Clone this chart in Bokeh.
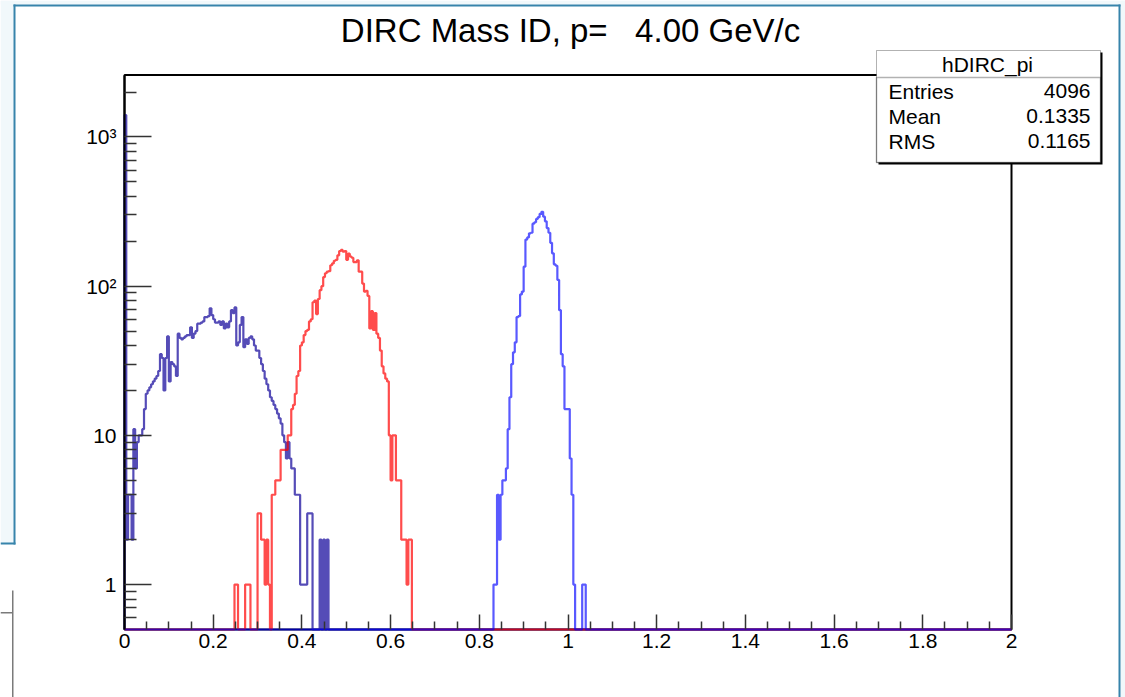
import numpy as np
from bokeh.plotting import figure
from bokeh.models import Range1d, FixedTicker, Label, BoxAnnotation
from bokeh.embed import file_html
from bokeh.resources import INLINE

# ---------------- data ----------------
BIN_WIDTH = 0.004
N_BINS = 500

# hDIRC_pi (dark blue), starts at bin 0
pi_first_bin = 0
pi_counts = [1400, 2, 4, 4, 2, 11, 6, 9, 10, 10, 11, 15, 19, 20, 21, 22, 23, 24, 25, 27,
             35, 33, 20, 33, 46, 23, 31, 30, 29, 25, 48, 45, 44, 45, 46, 47, 47, 53, 45, 48,
             50, 56, 56, 57, 58, 62, 62, 63, 71, 64, 60, 57, 57, 58, 55, 58, 52, 56, 53, 58,
             69, 66, 72, 40, 42, 55, 62, 39, 44, 41, 45, 46, 44, 40, 37, 37, 33, 30, 27, 24,
             22, 20, 18, 17, 16, 15, 14, 13, 12, 10, 9, 7, 9, 7, 6, 6, 4, 4, 4, 1,
             1, 1, 1, 3, 3, 3, 0, 0, 0, 0, 2, 0, 2, 0, 2]

# kaon (red), starts at bin 62
k_first_bin = 62
k_counts = [1, 1, 0, 0, 0, 0, 1, 1, 1, 0, 0, 0, 0, 3, 3, 2, 2, 1, 2, 1,
            0, 4, 4, 5, 5, 5, 8, 8, 8, 8, 10, 10, 15, 16, 19, 25, 27, 40, 42, 47,
            50, 51, 58, 60, 78, 80, 65, 82, 94, 100, 115, 122, 125, 126, 138, 142, 148, 150, 161, 172,
            175, 170, 172, 150, 165, 158, 155, 145, 145, 149, 125, 125, 104, 92, 93, 86, 52, 68, 51, 66,
            48, 45, 37, 29, 26, 24, 23, 10, 5, 10, 10, 5, 5, 5, 2, 2, 2, 1, 2, 2]

# proton (blue), starts at bin 208
p_first_bin = 208
p_counts = [1, 1, 4, 2, 4, 5, 5, 6, 11, 18, 30, 36, 42, 62, 63, 88, 92, 135, 205, 212,
            226, 228, 262, 268, 282, 290, 305, 315, 292, 272, 245, 228, 195, 166, 140, 137, 110, 69, 35, 29,
            15, 15, 15, 7, 4, 1, 0, 0, 0, 0, 1, 1]

x_ticks = [0, 0.2, 0.4, 0.6, 0.8, 1, 1.2, 1.4, 1.6, 1.8, 2]
x_tick_labels = ["0", "0.2", "0.4", "0.6", "0.8", "1", "1.2", "1.4", "1.6", "1.8", "2"]
x_minor = [0.05, 0.1, 0.15, 0.25, 0.3, 0.35, 0.45, 0.5, 0.55, 0.65, 0.7, 0.75, 0.85, 0.9, 0.95,
           1.05, 1.1, 1.15, 1.25, 1.3, 1.35, 1.45, 1.5, 1.55, 1.65, 1.7, 1.75, 1.85, 1.9, 1.95]
y_ticks = [1, 10, 100, 1000]
y_tick_labels = ["1", "10", "10\u00b2", "10\u00b3"]
y_minor = [0.6, 0.7, 0.8, 0.9, 2, 3, 4, 5, 6, 7, 8, 9, 20, 30, 40, 50, 60, 70, 80, 90,
           200, 300, 400, 500, 600, 700, 800, 900, 2000]

title_text = "DIRC Mass ID, p=\u00a0\u00a0\u00a04.00 GeV/c"
stats_name = "hDIRC_pi"
stats_rows = ["Entries", "Mean", "RMS"]
stats_vals = ["4096", "0.1335", "0.1165"]

# ---------------- geometry ----------------
W, H = 1125, 697
X0, X1 = 0.0, 2.0
Y0, Y1 = 0.5, 2600.0
FRAME_L, FRAME_R, FRAME_T, FRAME_B = 124.0, 1011.0, 74.5, 629.0
FONT = "Liberation Sans"

px_x = (FRAME_R - FRAME_L) / (X1 - X0)
x_start = X0 - FRAME_L / px_x
x_end = X1 + (W - FRAME_R) / px_x
decade = (FRAME_B - FRAME_T) / (np.log10(Y1) - np.log10(Y0))
y_start = 10 ** (np.log10(Y0) - (H - FRAME_B) / decade)
y_end = 10 ** (np.log10(Y1) + FRAME_T / decade)

edges = X0 + np.arange(N_BINS + 1) * BIN_WIDTH


def full(first, counts):
    arr = np.zeros(N_BINS)
    arr[first:first + len(counts)] = counts
    return arr


def outline(arr):
    vals = np.where(arr > 0, arr, Y0)
    xs = np.concatenate([[edges[0]], np.repeat(edges, 2)[1:-1], [edges[-1]]])
    ys = np.concatenate([[Y0], np.repeat(vals, 2), [Y0]])
    return xs, ys


p = figure(width=W, height=H, x_range=Range1d(x_start, x_end), y_range=Range1d(y_start, y_end),
           y_axis_type="log", output_backend="svg", toolbar_location=None,
           min_border=0, min_border_left=0, min_border_right=0, min_border_top=0,
           min_border_bottom=0)
p.outline_line_color = None
p.xgrid.grid_line_color = None
p.ygrid.grid_line_color = None
p.background_fill_color = "white"
p.border_fill_color = "white"


def sbox(l, r, t, b, **kw):
    # page pixel coords (x right, y down) -> screen units of the frame (y up)
    return BoxAnnotation(left=l, right=r, top=H - t, bottom=H - b, left_units="screen",
                         right_units="screen", top_units="screen", bottom_units="screen",
                         level="underlay", **kw)


# window decorations
BG = "#f1f8fb"
TEAL = "#3784ab"
GRAY = "#7a7a7a"
p.add_layout(sbox(0, 13, 0, 543, fill_color=BG, fill_alpha=1, line_color=None))
p.add_layout(sbox(0, W, 0, 4, fill_color=BG, fill_alpha=1, line_color=None))
p.add_layout(sbox(1120, W, 0, H, fill_color=BG, fill_alpha=1, line_color=None))
p.add_layout(sbox(13, 1120, 4, 6, fill_color=TEAL, fill_alpha=1, line_color=None))
p.add_layout(sbox(13, 15, 4, 544, fill_color=TEAL, fill_alpha=1, line_color=None))
p.add_layout(sbox(0, 15, 542, 544, fill_color=TEAL, fill_alpha=1, line_color=None))
p.add_layout(sbox(1118, 1120, 4, H, fill_color=TEAL, fill_alpha=1, line_color=None))
p.add_layout(sbox(11.5, 13, 590, H, fill_color=GRAY, fill_alpha=1, line_color=None))
p.add_layout(sbox(0, 11.5, 611.5, 613, fill_color=GRAY, fill_alpha=1, line_color=None))

# frame
p.quad(left=[X0], right=[X1], bottom=[Y0], top=[Y1], fill_color=None,
       line_color="black", line_width=2)

for first, counts, color, alpha in [(pi_first_bin, pi_counts, "#2a1fa5", 0.8),
                                    (k_first_bin, k_counts, "#ff0000", 0.7),
                                    (p_first_bin, p_counts, "#0000ff", 0.65)]:
    xs, ys = outline(full(first, counts))
    p.line(xs, ys, line_color=color, line_alpha=alpha, line_width=2.2)

xa = p.xaxis[0]
xa.fixed_location = Y0
xa.bounds = (X0, X1)
xa.ticker = FixedTicker(ticks=x_ticks, minor_ticks=x_minor)
xa.major_label_overrides = {t: l for t, l in zip(x_ticks, x_tick_labels)}
xa.axis_line_color = None
xa.major_tick_in = 15
xa.major_tick_out = 0
xa.minor_tick_in = 8
xa.minor_tick_out = 0
xa.major_tick_line_color = "#333333"
xa.minor_tick_line_color = "#333333"
xa.major_tick_line_width = 1.5
xa.minor_tick_line_width = 1.5
xa.major_label_text_font = FONT
xa.major_label_text_font_size = "21px"
xa.major_label_text_color = "black"
xa.major_label_standoff = 4

ya = p.yaxis[0]
ya.fixed_location = X0
ya.bounds = (Y0, Y1)
ya.ticker = FixedTicker(ticks=y_ticks, minor_ticks=y_minor)
ya.major_label_overrides = {t: l for t, l in zip(y_ticks, y_tick_labels)}
ya.axis_line_color = "black"
ya.axis_line_width = 2
ya.major_tick_in = 27
ya.major_tick_out = 0
ya.minor_tick_in = 12
ya.minor_tick_out = 0
ya.major_tick_line_color = "#333333"
ya.minor_tick_line_color = "#333333"
ya.major_tick_line_width = 1.5
ya.minor_tick_line_width = 1.5
ya.major_label_text_font = FONT
ya.major_label_text_font_size = "21px"
ya.major_label_text_color = "black"
ya.major_label_standoff = 8


def slabel(x, y, text, size, align):
    return Label(x=x, y=H - y, x_units="screen", y_units="screen", text=text,
                 text_font=FONT, text_font_size=size, text_align=align,
                 text_baseline="alphabetic", text_color="black")


# title
p.add_layout(slabel(570, 29.5, title_text, "33px", "center"))

# stats box
def obox(l, r, t, b, **kw):
    return BoxAnnotation(left=l, right=r, top=H - t, bottom=H - b, left_units="screen",
                         right_units="screen", top_units="screen", bottom_units="screen",
                         **kw)


p.add_layout(obox(878, 1102, 52, 164, fill_color="black", fill_alpha=1, line_color=None))
p.add_layout(obox(876, 1100, 50, 162, fill_color="white", fill_alpha=1, line_color="black",
                  line_width=1))
p.add_layout(obox(876, 1100, 77, 162, fill_color=None, fill_alpha=0, line_color="black",
                  line_width=1.5))
p.add_layout(slabel(987, 63.5, stats_name, "21px", "center"))
row_y = [90.5, 115.5, 140.5]
for name, val, yy in zip(stats_rows, stats_vals, row_y):
    p.add_layout(slabel(888, yy, name, "21px", "left"))
    p.add_layout(slabel(1090, yy, val, "21px", "right"))

open("out.html", "w").write(file_html(p, INLINE))
